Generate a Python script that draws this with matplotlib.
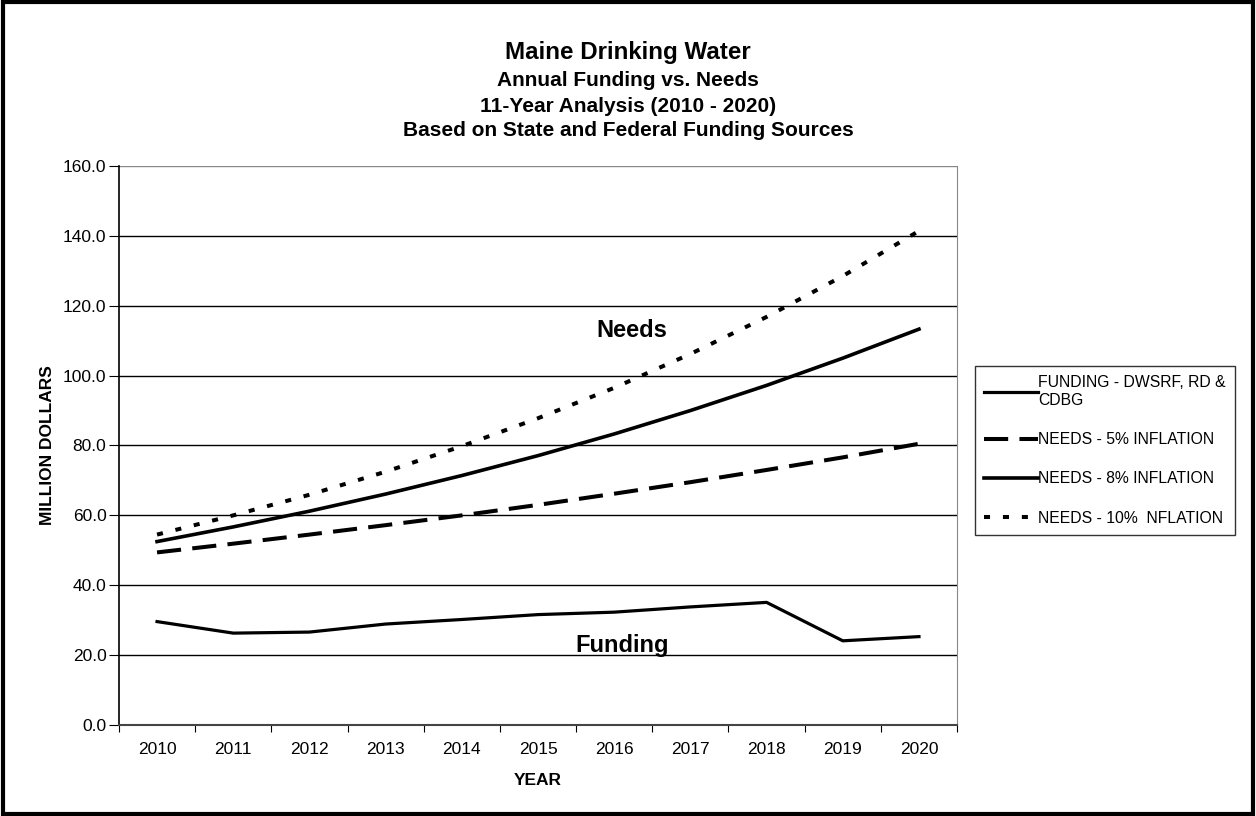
import matplotlib.pyplot as plt
from matplotlib.patches import Rectangle

plt.rcParams['font.family'] = ['Liberation Sans', 'DejaVu Sans']

years = ['2010', '2011', '2012', '2013', '2014', '2015', '2016', '2017', '2018', '2019', '2020']
funding = [29.6, 26.3, 26.6, 28.9, 30.2, 31.6, 32.3, 33.8, 35.1, 24.1, 25.3]
needs_5 = [49.4, 51.9, 54.5, 57.2, 60.0, 63.0, 66.2, 69.5, 73.0, 76.6, 80.5]
needs_8 = [52.5, 56.7, 61.2, 66.1, 71.4, 77.1, 83.3, 90.0, 97.2, 105.0, 113.3]
needs_10 = [54.5, 60.0, 65.9, 72.5, 79.8, 87.8, 96.5, 106.2, 116.8, 128.5, 141.4]
y_ticks = [0, 20, 40, 60, 80, 100, 120, 140, 160]

fig = plt.figure(figsize=(12.56, 8.16), dpi=100)
ax = fig.add_axes([0.0947, 0.1115, 0.6673, 0.6851])

x = list(range(len(years)))
ax.plot(x, funding, color='black', lw=2.3, label='FUNDING - DWSRF, RD &\nCDBG')
ax.plot(x, needs_5, color='black', lw=2.9, dashes=(6, 2.8), label='NEEDS - 5% INFLATION')
ax.plot(x, needs_8, color='black', lw=2.6, label='NEEDS - 8% INFLATION')
ax.plot(x, needs_10, color='black', lw=2.9, dashes=(1.5, 3.2), label='NEEDS - 10%  NFLATION')

ax.set_xlim(-0.5, len(years) - 0.5)
ax.set_ylim(0, 160)
ax.set_yticks(y_ticks)
ax.set_yticklabels([f'{v:.1f}' for v in y_ticks], fontsize=12.5)
for v in y_ticks[1:-1]:
    ax.axhline(v, color='black', lw=1.0, zorder=0)
ax.axhline(160, color='#888888', lw=1.0, zorder=0)

# category boundaries as major ticks, labels on minor ticks
ax.set_xticks([i - 0.5 for i in range(len(years) + 1)])
ax.set_xticklabels([])
ax.set_xticks(x, minor=True)
ax.set_xticklabels(years, minor=True, fontsize=12.5)
ax.tick_params(axis='x', which='minor', length=0, pad=12)
ax.tick_params(axis='x', which='major', length=5, direction='out', color='black')
ax.tick_params(axis='y', length=7, direction='out', pad=2)

ax.spines['top'].set_visible(False)
ax.spines['right'].set_color('#888888')
ax.spines['left'].set_linewidth(1.2)
ax.spines['bottom'].set_linewidth(1.5)
ax.spines['bottom'].set_color('#444444')

ax.set_ylabel('MILLION DOLLARS', fontsize=12.5, fontweight='bold', labelpad=6)
ax.set_xlabel('YEAR', fontsize=12.5, fontweight='bold', labelpad=12)

ax.text(6.23, 113, 'Needs', fontsize=17, fontweight='bold', ha='center', va='center')
ax.text(6.1, 22.9, 'Funding', fontsize=17, fontweight='bold', ha='center', va='center')

fig.text(0.5, 1 - 52 / 816, 'Maine Drinking Water', fontsize=17.4, fontweight='bold', ha='center', va='center')
fig.text(0.5, 1 - 81 / 816, 'Annual Funding vs. Needs', fontsize=15, fontweight='bold', ha='center', va='center')
fig.text(0.5, 1 - 106 / 816, '11-Year Analysis (2010 - 2020)', fontsize=15, fontweight='bold', ha='center', va='center')
fig.text(0.5, 1 - 131 / 816, 'Based on State and Federal Funding Sources', fontsize=15, fontweight='bold', ha='center', va='center')

leg = fig.legend(loc='upper left', bbox_to_anchor=(975 / 1256, 1 - 366 / 816), fontsize=11.3,
                 frameon=True, fancybox=False, edgecolor='black', handlelength=3.4,
                 handletextpad=0.0, labelspacing=1.55, borderpad=0.6, borderaxespad=0)
leg.get_frame().set_linewidth(1.0)

fig.patches.append(Rectangle((0.002, 0.003), 0.996, 0.994, transform=fig.transFigure,
                             fill=False, edgecolor='black', lw=3))

fig.savefig('out.png', dpi=100)
